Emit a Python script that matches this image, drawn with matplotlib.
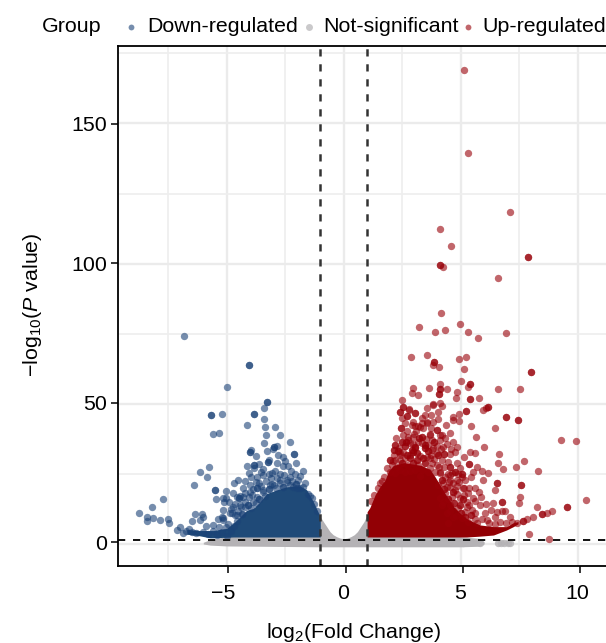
import matplotlib
matplotlib.use("Agg")
import matplotlib.pyplot as plt
from matplotlib.lines import Line2D
from matplotlib.transforms import ScaledTranslation

plt.rcParams['font.family'] = ['Liberation Sans', 'DejaVu Sans']
plt.rcParams['mathtext.fontset'] = 'custom'
plt.rcParams['mathtext.rm'] = 'Liberation Sans'
plt.rcParams['mathtext.it'] = 'Liberation Sans:italic'
plt.rcParams['lines.scale_dashes'] = False

# ---------- values ----------
x_ticks = [-5, 0, 5, 10]
x_tick_labels = ['\u22125', '0', '5', '10']
y_ticks = [0, 50, 100, 150]
fc_cutoffs = [-1, 1]
p_cutoff = 1.3

# dense, fully overlapped masses (envelopes of the solid areas)
ns_core_x = [-6.0, -5.7, -5.0, -1.0, -0.87, -0.75, -0.585, -0.45, -0.3, -0.15, 0, 0.15, 0.3, 0.45, 0.585, 0.75, 0.87, 1.0, 5.0, 5.8, 6.0]
ns_core_top = [0.6, 1.6, 2.6, 9.7, 8.0, 6.5, 4.4, 3.3, 2.6, 2.1, 1.9, 2.1, 2.6, 3.3, 4.4, 6.5, 8.0, 10.5, 2.6, 2.0, 0.8]
ns_core_bottom = [0.0, -0.4, -0.7, -1.0, -1.0, -1.0, -1.0, -1.0, -1.0, -1.0, -1.0, -1.0, -1.0, -1.0, -1.0, -1.0, -1.0, -1.0, -1.0, -0.8, 0.0]

down_core_x = [-6.71, -6.14, -5.71, -5.57, -5.0, -4.72, -4.43, -4.15, -3.86, -3.58, -3.29, -2.86, -2.44, -1.87, -1.58, -1.3, -1.0]
down_core_top = [5.2, 4.8, 4.8, 4.8, 5.6, 7.4, 9.7, 12.0, 12.7, 15.0, 18.0, 19.3, 20.4, 20.7, 19.3, 15.1, 9.7]
down_core_bottom = [3.5, 2.9, 2.2, 2.2, 2.4, 2.5, 2.5, 2.5, 2.5, 2.5, 2.5, 2.5, 2.5, 2.5, 2.5, 2.5, 2.5]

up_core_x = [1.0, 1.12, 1.34, 1.55, 1.77, 1.91, 2.12, 2.55, 2.98, 3.33, 3.69, 3.9, 4.12, 4.33, 4.69, 4.97, 5.26, 5.82, 6.4, 6.96, 7.25, 7.45]
up_core_top = [11.5, 13.0, 17.5, 20.5, 22.8, 26.0, 28.0, 29.0, 28.5, 28.0, 26.5, 24.0, 21.0, 18.0, 13.5, 11.0, 9.0, 6.8, 6.2, 6.2, 7.6, 8.0]
up_core_bottom = [2.5, 2.5, 2.5, 2.5, 2.5, 2.5, 2.5, 2.5, 2.5, 2.5, 2.5, 2.5, 2.5, 2.5, 2.5, 2.5, 2.5, 2.8, 3.2, 5.0, 6.2, 7.2]

# individually visible points
ns_points = [(5.1, 0.4), (5.83, 0.4), (6.6, 0.4), (6.72, 0.5), (6.85, 0.4), (7.0, 0.5), (7.1, 0.4)]

down_points = [
    (-6.84, 74.1), (-4.06, 63.7), (-5.0, 56.0), (-3.29, 50.8), (-3.42, 48.4), (-3.83, 46.3),
    (-5.2, 46.5), (-5.66, 46.0), (-3.42, 44.5), (-4.12, 42.3), (-3.36, 41.9), (-2.94, 41.6),
    (-5.31, 39.7), (-5.6, 39.2), (-3.32, 39.0), (-2.71, 39.0), (-3.39, 36.1), (-2.3, 36.4),
    (-2.98, 34.5), (-2.84, 35.0), (-3.04, 34.0), (-3.98, 33.5), (-3.99, 32.7), (-3.29, 33.0),
    (-3.75, 31.4), (-2.61, 31.2), (-2.79, 31.8), (-2.14, 32.0), (-3.19, 30.0), (-3.22, 29.2),
    (-2.05, 28.8), (-3.82, 28.3), (-3.82, 27.2), (-4.13, 27.8), (-3.46, 26.9), (-2.58, 27.8),
    (-2.39, 27.8), (-5.77, 27.6), (-6.14, 25.8), (-5.86, 23.8), (-1.73, 26.0), (-2.27, 26.2),
    (-4.03, 25.3), (-3.06, 25.2), (-3.18, 25.0), (-3.43, 24.7), (-3.69, 23.8), (-3.98, 24.0),
    (-2.72, 24.8), (-2.29, 24.0), (-1.97, 23.0), (-4.53, 23.0), (-4.69, 21.9), (-6.38, 21.2),
    (-3.63, 21.6), (-1.65, 21.6), (-2.72, 22.8), (-2.44, 22.8), (-3.08, 21.4), (-3.86, 19.5),
    (-3.69, 19.9), (-5.49, 19.3), (-5.03, 18.8), (-2.01, 19.9), (-1.37, 16.5), (-1.51, 18.0),
    (-5.46, 15.9), (-5.17, 16.5), (-5.03, 16.3), (-5.12, 15.1), (-4.57, 16.9), (-4.46, 16.3),
    (-4.43, 17.0), (-4.03, 16.9), (-4.65, 14.1), (-4.4, 13.3), (-5.14, 12.1), (-4.83, 12.4),
    (-4.86, 11.2), (-4.65, 10.3), (-3.72, 16.9), (-3.43, 18.7), (-3.75, 14.7), (-4.22, 15.1),
    (-7.72, 15.9), (-8.2, 13.1), (-8.75, 11.2), (-8.42, 9.7), (-8.42, 8.1), (-8.14, 9.3),
    (-7.84, 8.6), (-7.51, 8.8), (-7.48, 7.4), (-7.14, 5.0), (-6.98, 6.2), (-6.34, 10.7),
    (-6.07, 10.6), (-6.0, 9.7), (-6.14, 8.6), (-6.5, 8.1), (-5.37, 8.8), (-5.21, 9.5),
    (-5.14, 8.6), (-5.88, 6.4), (-2.72, 21.6), (-3.0, 21.0), (-2.44, 22.0), (-2.15, 20.4),
    (-1.87, 19.8), (-3.44, 19.2), (-3.72, 19.8), (-4.0, 18.6), (-4.29, 16.9), (-3.86, 15.1),
    (-4.43, 13.9), (-4.72, 13.3), (-3.15, 21.0), (-4.79, 10.9), (-4.58, 10.3), (-4.22, 13.3),
    (-6.75, 4.6), (-6.5, 4.2), (-6.6, 5.4), (-6.3, 4.0), (-6.0, 4.4), (-5.8, 3.6), (-5.6, 4.6),
    (-5.4, 3.2), (-5.2, 4.4), (-5.0, 3.0), (-4.8, 4.8), (-6.85, 4.0), (-5.6, 6.8), (-5.35, 6.2),
    (-4.55, 8.2), (-4.35, 10.6), (-4.95, 7.1), (-5.05, 6.2), (-4.7, 6.3), (-4.5, 11.7), (-4.1, 13.9),
    (-3.95, 13.0), (-3.6, 16.0), (-3.35, 17.2), (-3.9, 17.6), (-4.2, 18.2), (-3.2, 19.6), (-2.9, 19.9),
    (-2.6, 20.2), (-2.3, 21.2), (-2.05, 21.4), (-1.75, 20.2), (-1.45, 17.0), (-1.25, 14.4), (-1.12, 11.6),
    (-4.0, 21.2), (-3.3, 22.6), (-2.85, 23.4), (-2.55, 24.6), (-2.1, 25.0), (-3.55, 20.8), (-4.3, 20.0),
    (-3.1, 23.6), (-2.95, 26.2), (-2.2, 22.6), (-1.85, 24.4), (-3.55, 25.6), (-3.75, 22.2), (-4.2, 22.4),
    (-4.75, 18.2), (-4.9, 15.0), (-2.5, 29.6), (-2.85, 29.0), (-3.6, 28.4),
]
down_overlap = [
    (-4.06, 63.7), (-3.83, 46.3), (-5.66, 46.0), (-5.49, 19.3), (-3.99, 32.7), (-3.29, 50.8),
    (-3.22, 29.2), (-2.98, 34.5), (-4.46, 16.3), (-3.82, 28.3), (-2.14, 32.0), (-5.17, 9.4),
    (-4.1, 13.9), (-3.6, 16.0), (-2.6, 20.2), (-2.05, 21.4), (-3.2, 19.6), (-4.35, 10.6),
]

up_points = [
    (5.14, 169.0), (5.31, 139.4), (7.09, 118.4), (4.13, 112.5), (4.6, 106.3), (7.89, 102.5),
    (4.12, 99.4), (4.25, 98.8), (6.58, 94.8), (4.16, 82.5), (4.99, 78.6), (3.23, 77.5),
    (3.89, 75.7), (4.33, 76.2), (5.31, 75.7), (5.73, 73.5), (6.92, 75.3), (2.88, 66.7),
    (3.55, 67.4), (3.85, 64.8), (3.83, 63.8), (4.07, 63.1), (4.94, 66.1), (5.24, 66.6),
    (5.16, 62.5), (8.01, 61.3), (5.01, 58.0), (4.1, 57.1), (5.41, 57.0), (5.33, 56.1),
    (2.95, 55.8), (3.66, 55.8), (4.12, 55.2), (4.4, 55.2), (6.61, 55.2), (7.54, 55.2),
    (2.93, 53.7), (3.19, 53.3), (4.06, 53.5), (4.84, 54.1), (4.78, 52.0), (5.77, 52.0),
    (5.41, 51.6), (2.51, 51.2), (6.18, 49.0), (5.97, 47.8), (6.07, 48.6), (5.24, 47.6),
    (4.19, 49.2), (3.83, 49.8), (3.55, 48.4), (4.12, 50.2), (2.41, 47.2), (2.55, 48.7),
    (2.79, 48.0), (3.05, 46.6), (2.69, 45.8), (2.49, 45.1), (3.47, 46.1), (3.72, 46.1),
    (4.04, 47.2), (4.04, 44.7), (4.69, 45.4), (4.93, 46.3), (4.69, 44.2), (4.93, 44.0),
    (6.92, 45.3), (7.46, 44.2), (5.45, 42.1), (6.48, 41.4), (4.37, 42.4), (2.98, 43.6),
    (2.9, 42.4), (3.19, 42.1), (3.57, 43.0), (3.26, 41.6), (2.43, 41.3), (3.97, 40.7),
    (5.67, 38.2), (9.27, 37.0), (9.91, 36.9), (2.23, 37.7), (2.55, 38.9), (2.76, 37.1),
    (2.98, 38.0), (2.51, 36.5), (3.69, 39.2), (3.76, 37.1), (4.12, 38.9), (4.33, 37.7),
    (4.54, 39.5), (4.69, 36.5), (4.86, 34.7), (4.26, 34.7), (3.83, 34.1), (5.98, 34.6),
    (2.16, 33.4), (3.05, 34.7), (3.47, 35.3), (3.19, 36.5), (5.4, 32.9), (5.61, 32.6),
    (4.76, 32.8), (4.54, 32.1), (6.64, 32.2), (5.14, 30.9), (4.83, 29.0), (6.58, 29.0),
    (7.72, 29.5), (1.98, 30.0), (2.41, 32.3), (2.83, 31.7), (3.55, 31.2), (3.97, 32.3),
    (4.47, 29.4), (4.19, 30.0), (5.37, 28.5), (5.68, 27.6), (7.36, 27.6), (6.81, 26.7),
    (8.3, 25.9), (5.92, 26.0), (6.15, 25.2), (5.51, 25.5), (5.43, 24.0), (4.44, 25.0),
    (4.61, 25.4), (5.07, 25.0), (4.54, 22.8), (4.94, 22.1), (5.95, 22.8), (6.57, 21.6),
    (7.56, 21.0), (5.13, 19.9), (6.47, 19.2), (5.77, 18.7), (5.51, 16.5), (5.08, 15.9),
    (7.55, 16.6), (6.78, 15.1), (7.51, 14.7), (6.37, 14.7), (5.82, 13.9), (10.37, 15.6),
    (9.56, 13.2), (8.25, 13.3), (6.78, 11.9), (6.54, 11.5), (6.89, 11.9), (8.89, 11.9),
    (8.67, 11.2), (8.49, 10.6), (8.1, 9.7), (7.11, 9.7), (7.82, 8.9), (7.65, 8.2), (7.39, 7.4),
    (6.04, 10.9), (5.61, 8.8), (6.47, 9.7), (6.11, 8.6), (7.93, 3.4), (8.77, 1.8), (5.26, 13.3),
    (5.47, 12.1), (4.83, 18.0), (4.69, 21.6), (4.4, 20.4), (4.12, 25.2), (3.69, 27.0), (3.26, 24.3),
    (3.33, 43.0), (3.55, 43.6), (3.4, 41.3), (3.05, 42.1), (4.19, 38.9), (2.8, 47.8), (3.83, 49.6),
    (2.48, 36.5), (2.76, 38.3), (2.83, 35.9), (3.33, 38.3), (3.33, 35.9), (4.12, 37.1), (3.69, 38.9),
    (3.62, 35.3), (2.55, 32.9), (3.05, 34.1), (2.98, 32.9), (3.48, 34.1), (3.76, 33.5), (4.04, 31.7),
    (2.69, 31.7), (2.41, 31.7), (2.19, 30.0), (2.41, 30.0), (2.83, 30.5), (3.12, 30.0), (3.4, 30.5),
    (3.69, 30.5), (2.05, 28.2), (2.26, 27.6), (2.48, 28.8), (2.69, 28.2), (2.98, 28.8), (3.19, 28.2),
    (3.48, 28.8), (3.76, 28.8), (3.97, 28.2), (1.98, 25.8), (2.19, 25.2), (2.41, 26.4), (2.62, 25.8),
    (2.83, 26.2), (3.05, 26.4), (3.33, 26.4), (3.62, 25.8), (3.9, 25.8), (4.12, 25.8), (1.72, 24.0),
    (4.33, 24.0), (4.54, 24.6), (4.83, 22.8), (5.04, 24.0), (4.26, 21.6), (4.54, 20.4), (4.76, 19.3),
    (5.11, 19.9), (4.33, 18.1), (4.61, 16.9), (4.97, 16.3), (5.26, 15.1), (4.26, 15.1), (4.54, 13.9),
    (4.9, 12.7), (5.18, 11.5), (4.4, 11.0), (4.69, 9.7), (5.04, 9.2), (5.33, 8.0), (4.47, 7.4),
    (1.45, 20.0), (1.62, 22.6), (1.3, 17.6), (1.18, 15.4), (1.85, 27.0), (1.55, 21.6), (2.1, 29.6),
    (2.3, 33.0), (2.62, 34.8), (2.9, 33.6), (3.15, 32.6), (3.6, 33.0), (3.88, 30.2), (4.08, 27.6),
    (4.2, 23.0), (4.05, 21.0), (4.3, 19.6), (4.48, 22.0), (4.65, 18.4), (4.85, 20.8), (4.45, 16.0),
    (4.72, 14.8), (4.95, 14.0), (5.15, 17.6), (5.35, 20.0), (5.2, 9.6), (5.45, 10.4), (5.6, 11.0),
    (5.7, 7.6), (5.9, 8.8), (6.2, 7.6), (6.45, 7.0), (6.7, 8.0), (6.95, 7.4), (7.2, 8.0), (5.35, 14.0),
    (5.62, 15.2), (5.0, 11.0), (4.8, 10.0), (4.55, 11.8), (4.2, 13.8), (4.12, 16.4),
    (2.2, 35.2), (2.35, 34.4), (2.65, 36.2), (2.95, 35.6), (3.0, 39.4), (3.22, 37.8), (3.5, 37.4),
    (3.85, 36.4), (4.0, 34.8), (4.3, 32.2), (4.15, 33.8), (3.75, 41.2), (3.1, 40.2), (2.7, 40.4),
    (2.6, 43.2), (3.35, 44.8), (3.8, 43.4), (4.4, 35.8), (4.6, 34.0), (2.15, 31.8), (2.6, 30.6),
    (3.25, 31.4), (3.75, 31.6), (4.3, 27.6), (4.55, 27.4), (4.75, 25.8), (4.95, 27.2), (5.2, 22.8),
    (5.3, 18.2), (4.9, 24.8), (5.6, 19.8), (5.85, 16.6), (6.1, 14.2), (6.3, 12.2),
]
up_overlap = [
    (7.89, 102.5), (4.12, 99.4), (3.85, 64.8), (8.01, 61.3), (5.41, 57.0), (4.12, 55.2),
    (4.06, 53.5), (5.41, 51.6), (6.18, 49.0), (5.24, 47.6), (2.41, 47.2), (2.55, 48.7),
    (3.05, 46.6), (2.69, 45.8), (6.92, 45.3), (7.46, 44.2), (2.43, 41.3), (3.97, 40.7),
    (2.16, 33.4), (1.98, 30.0), (5.37, 28.5), (5.07, 25.0), (6.57, 21.6), (7.56, 21.0),
    (5.08, 15.9), (6.78, 15.1), (9.56, 13.2), (8.49, 10.6), (7.65, 8.2), (3.05, 34.7),
    (3.47, 35.3), (3.33, 38.3), (2.98, 32.9), (3.48, 34.1), (2.69, 31.7), (2.83, 30.5),
    (3.4, 30.5), (3.12, 30.0), (2.48, 28.8), (2.98, 28.8), (3.48, 28.8), (4.04, 31.7),
    (2.3, 33.0), (2.62, 34.8), (2.9, 33.6), (3.15, 32.6), (3.6, 33.0), (4.2, 23.0), (4.3, 19.6),
    (4.65, 18.4), (4.45, 16.0), (4.72, 14.8), (4.95, 14.0), (5.2, 9.6), (5.45, 10.4), (5.0, 11.0),
    (2.2, 35.2), (2.65, 36.2), (3.22, 37.8), (3.85, 36.4), (4.3, 32.2), (4.55, 27.4), (4.75, 25.8),
]

groups = ['Down-regulated', 'Not-significant', 'Up-regulated']
colors = {'Down-regulated': '#1B4277', 'Not-significant': '#B4B2B5', 'Up-regulated': '#980008'}
solid = {'Down-regulated': '#1F4A78', 'Up-regulated': '#920005'}

# ---------- layout ----------
W, H = 606, 643
FS = 15.4
fig = plt.figure(figsize=(W / 100, H / 100), dpi=100, facecolor='white')
L, R, T, B = 118, 606, 45.5, 566
rect = [L / W, 1 - B / H, (R - L) / W, (B - T) / H]

ax = fig.add_axes(rect)
ax.set_xlim((L - 343.7) / 23.4, (R - 343.7) / 23.4)
ax.set_ylim((544 - B) / 2.804, (544 - T) / 2.804)
for s in ax.spines.values():
    s.set_visible(False)
ax.set_xticks(x_ticks)
ax.set_xticks([-7.5, -2.5, 2.5, 7.5], minor=True)
ax.set_yticks(y_ticks)
ax.set_yticks([25, 75, 125, 175], minor=True)
ax.tick_params(which='both', left=False, bottom=False, labelleft=False, labelbottom=False)
ax.grid(which='major', color='#EBEBEB', lw=1.7, zorder=0)
ax.grid(which='minor', color='#EEEEEE', lw=1.2, zorder=0)
ax.set_axisbelow(True)

# dense masses
ax.fill_between(ns_core_x, ns_core_bottom, ns_core_top, color=colors['Not-significant'], lw=0, zorder=2)
ax.fill_between(down_core_x, down_core_bottom, down_core_top, color=solid['Down-regulated'], lw=0, zorder=3)
ax.fill_between(up_core_x, up_core_bottom, up_core_top, color=solid['Up-regulated'], lw=0, zorder=3)

MS = 28
def pts(ps, c, z=3, a=0.6):
    xs, ys = zip(*ps)
    ax.scatter(xs, ys, s=MS, color=c, alpha=a, linewidths=0, zorder=z)

pts(ns_points, colors['Not-significant'], z=2, a=0.8)
pts(down_points, colors['Down-regulated'])
pts(down_overlap, colors['Down-regulated'])
pts(up_points, colors['Up-regulated'])
pts(up_overlap, colors['Up-regulated'])

for v in fc_cutoffs:
    ax.axvline(v, color='#333333', lw=1.8, dashes=(5.2, 5.6), zorder=5)
ax.axhline(p_cutoff, color='#111111', lw=1.4, dashes=(5.2, 5.6), zorder=5)

# frame with its own tick positions
fr = fig.add_axes(rect, facecolor='none')
fr.set_xlim((L - 345.5) / 23.47, (R - 345.5) / 23.47)
fr.set_ylim((542.3 - B) / 2.79, (542.3 - T) / 2.79)
fr.set_xticks(x_ticks)
fr.set_xticklabels(x_tick_labels, fontsize=FS)
fr.set_yticks(y_ticks)
fr.set_yticklabels([str(v) for v in y_ticks], fontsize=FS)
fr.tick_params(axis='x', length=5, width=1.1, pad=8, color='black', labelcolor='black')
fr.tick_params(axis='y', length=5, width=1.1, pad=3, color='black', labelcolor='black')
label_shift_px = [-5, -2, -2.5, -3]
for lab, dx in zip(fr.get_xticklabels(), label_shift_px):
    lab.set_transform(lab.get_transform() + ScaledTranslation(dx / 100, 0, fig.dpi_scale_trans))
fr.spines['right'].set_visible(False)
for k in ('left', 'top', 'bottom'):
    fr.spines[k].set_linewidth(1.3)
    fr.spines[k].set_color('black')

fig.text(353 / W, 1 - 632 / H, r'$\mathrm{log_{2}(Fold\ Change)}$', fontsize=FS, ha='center', va='center')
fig.text(33 / W, 1 - 305 / H, '\u2212' + r'$\mathrm{log_{10}(}\mathit{P}\mathrm{\ value)}$',
         fontsize=FS, rotation=90, ha='center', va='center')

# legend
fig.text(42 / W, 1 - 26 / H, 'Group', fontsize=FS, ha='left', va='center')
dot_px = [131, 309, 468]
label_px = [147, 323, 482]
dot_ms = [4.2, 5.0, 4.2]
for g, dx, tx, m in zip(groups, dot_px, label_px, dot_ms):
    fig.add_artist(Line2D([dx / W], [1 - 27 / H], marker='o', ms=m, mew=0, ls='none',
                          color=colors[g], alpha=0.6 if g != 'Not-significant' else 0.7,
                          transform=fig.transFigure))
    fig.text(tx / W, 1 - 26 / H, g, fontsize=FS, ha='left', va='center')

fig.savefig('out.png', dpi=100)
